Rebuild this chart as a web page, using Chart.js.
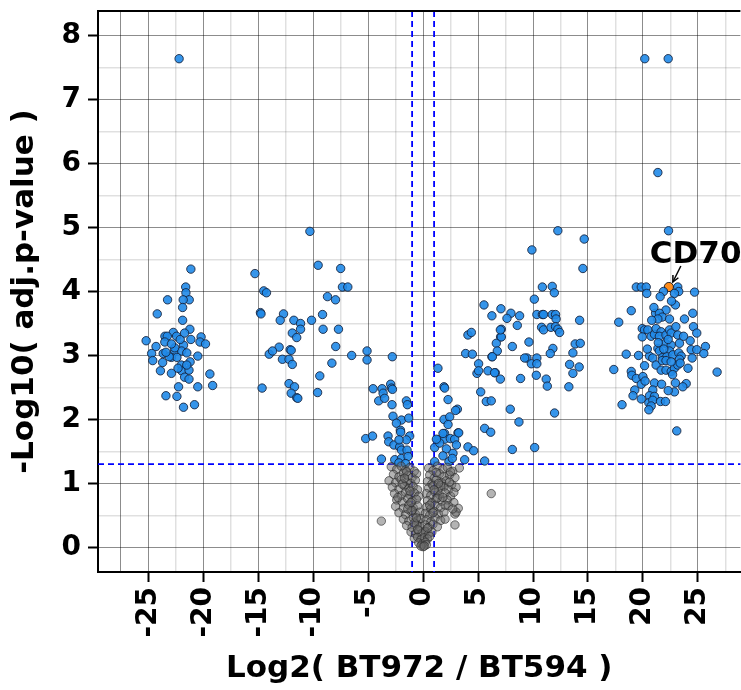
<!DOCTYPE html>
<html>
<head>
<meta charset="utf-8">
<script src="https://cdn.jsdelivr.net/npm/chart.js@4.4.0/dist/chart.umd.min.js"></script>
<style>
  html, body { margin: 0; padding: 0; background: #fff; overflow: hidden; }
  #wrap { width: 741px; height: 690px; overflow: hidden; }
</style>
</head>
<body>
<div id="wrap"><canvas id="volcano" width="746" height="690"></canvas></div>
<script>
// tick labels shown on the axes
const xTickLabels = [-25, -20, -15, -10, -5, 0, 5, 10, 15, 20, 25];
const yTickLabels = [0, 1, 2, 3, 4, 5, 6, 7, 8];

// cut-offs: |log2FC| = 1, adj.p = 0.05
const fcCut = [-1, 1];
const pCut = 1.301;

// highlighted gene
const hlLabels = ['CD70'];
const hlPoints = [[22.36, 4.07]];

// significant genes, [log2FC, -log10 adj.p]
const topOutliers = [[-22.2, 7.64], [20.17, 7.64], [22.3, 7.64], [21.36, 5.86], [22.33, 4.95]];

const farLeft = [
  [-21.13, 4.35], [-21.6, 4.07], [-21.58, 3.98], [-21.28, 3.87], [-21.83, 3.87], [-23.25, 3.87], [-21.88, 3.75], [-24.19, 3.65], [-21.88, 3.55], [-21.22, 3.41],
  [-22.73, 3.36], [-23.49, 3.30], [-23.28, 3.30], [-22.43, 3.30], [-25.2, 3.23], [-21.13, 3.25], [-20.2, 3.29], [-20.3, 3.21], [-19.8, 3.18], [-23.5, 3.21],
  [-24.3, 3.14], [-21.8, 3.16], [-24.7, 3.03], [-23.65, 3.03], [-22.6, 3.07], [-21.97, 3.07], [-21.5, 3.04], [-22.9, 2.97], [-22.4, 2.97], [-20.5, 2.99],
  [-24.6, 2.92], [-23.7, 2.89], [-21.2, 2.90], [-22.0, 2.85], [-23.9, 2.76], [-22.9, 2.72], [-21.97, 2.76], [-21.3, 2.77], [-21.7, 2.66], [-21.3, 2.63],
  [-19.4, 2.71], [-22.25, 2.51], [-20.5, 2.51], [-19.15, 2.53], [-23.4, 2.37], [-22.4, 2.36], [-20.8, 2.23], [-21.8, 2.19],
  [-22.6, 3.12], [-22.1, 3.25], [-21.7, 3.35], [-22.9, 3.18], [-23.1, 2.98], [-21.5, 2.85], [-22.3, 2.80], [-23.4, 3.05]
];

const midLeft = [
  [-15.3, 4.28], [-14.5, 4.01], [-14.25, 3.98], [-14.8, 3.67], [-14.75, 3.65], [-12.7, 3.65], [-13.0, 3.55], [-11.76, 3.55], [-11.15, 3.50], [-11.15, 3.41],
  [-10.15, 3.55], [-9.15, 3.64], [-9.1, 3.41], [-7.7, 3.41], [-11.9, 3.35], [-11.5, 3.28], [-13.1, 3.13], [-12.1, 3.09], [-12.0, 3.08], [-14.0, 3.02],
  [-13.7, 3.07], [-12.8, 2.94], [-12.2, 2.94], [-11.9, 2.86], [-7.95, 3.14], [-6.5, 3.0], [-8.3, 2.88], [-9.4, 2.68], [-14.65, 2.49], [-12.2, 2.56],
  [-11.7, 2.51], [-12.0, 2.41], [-11.5, 2.34], [-11.4, 2.33], [-9.6, 2.42], [-10.3, 4.94], [-9.55, 4.41], [-7.5, 4.36], [-7.34, 4.07], [-6.85, 4.07],
  [-8.7, 3.92], [-7.97, 3.87]
];

const nearLeft = [
  [-5.1, 3.07], [-5.1, 2.93], [-2.8, 2.98], [-4.55, 2.48], [-3.73, 2.48], [-3.64, 2.41], [-2.95, 2.55], [-2.88, 2.49], [-2.79, 2.47], [-4.04, 2.29],
  [-3.5, 2.33], [-2.83, 2.23], [-1.52, 2.29], [-1.43, 2.23], [-2.74, 2.05], [-1.97, 1.99], [-1.31, 2.02], [-2.43, 1.94], [-2.06, 1.83], [-2.04, 1.80],
  [-5.22, 1.70], [-4.6, 1.74], [-3.19, 1.74], [-1.22, 1.74], [-3.13, 1.65], [-2.65, 1.60], [-2.13, 1.57], [-1.52, 1.68], [-2.19, 1.68], [-1.97, 1.52],
  [-1.46, 1.52], [-3.79, 1.38], [-2.58, 1.37], [-1.97, 1.39], [-1.37, 1.42], [-2.2, 1.32], [-1.6, 1.31]
];

const nearRight = [
  [1.35, 2.80], [1.9, 2.51], [1.96, 2.49], [2.27, 2.31], [3.12, 2.16], [2.96, 2.14], [1.9, 2.0], [2.42, 2.04], [2.27, 1.92], [3.17, 1.79],
  [1.96, 1.78], [1.35, 1.68], [1.96, 1.69], [2.48, 1.70], [2.87, 1.69], [1.05, 1.56], [2.12, 1.54], [3.03, 1.60], [2.72, 1.47], [1.81, 1.43],
  [1.05, 1.34], [2.35, 1.34], [2.66, 1.39], [3.78, 1.37], [4.08, 1.57], [4.6, 1.51], [1.51, 1.63], [3.24, 1.79], [1.81, 1.78], [1.21, 1.69]
];

const midRight = [
  [12.26, 4.95], [14.66, 4.82], [9.9, 4.65], [14.54, 4.36], [10.85, 4.07], [11.75, 4.08], [11.94, 3.98], [10.12, 3.88], [5.54, 3.79], [7.08, 3.73],
  [7.99, 3.66], [8.78, 3.62], [7.63, 3.58], [6.26, 3.62], [10.35, 3.64], [10.85, 3.64], [10.96, 3.64], [11.75, 3.64], [12.05, 3.64], [12.1, 3.57],
  [14.24, 3.55], [8.57, 3.47], [7.12, 3.41], [10.78, 3.44], [10.96, 3.40], [11.63, 3.44], [12.05, 3.45], [12.26, 3.41], [12.42, 3.36], [4.08, 3.32],
  [4.39, 3.36], [7.05, 3.29], [6.66, 3.19], [6.75, 3.07], [8.12, 3.14], [9.63, 3.21], [11.81, 3.11], [11.57, 3.03], [13.84, 3.18], [14.3, 3.19],
  [13.63, 3.04], [3.87, 3.03], [4.48, 3.02], [6.26, 2.98], [9.45, 2.96], [10.35, 2.96], [9.85, 2.87], [10.35, 2.87], [5.05, 2.87], [4.9, 2.72],
  [5.9, 2.76], [6.57, 2.73], [7.03, 2.63], [8.87, 2.64], [10.3, 2.69], [11.2, 2.63], [11.3, 2.52], [13.33, 2.86], [14.2, 2.82], [13.63, 2.72],
  [13.26, 2.51], [5.24, 2.43], [5.75, 2.28], [6.2, 2.29], [7.93, 2.16], [8.72, 1.96], [11.96, 2.10], [5.6, 1.86], [6.15, 1.80], [8.12, 1.53],
  [10.15, 1.56], [5.6, 1.35], [6.3, 2.98], [7.12, 3.29], [7.03, 3.40], [9.24, 2.96], [5.05, 2.76], [6.5, 2.73]
];

const farRight = [
  [19.4, 4.07], [19.85, 4.07], [20.3, 4.07], [20.35, 3.97], [21.87, 4.0], [21.57, 3.92], [23.17, 4.07], [23.26, 4.0], [24.7, 3.99], [22.87, 3.97],
  [22.96, 3.79], [22.1, 3.71], [18.94, 3.70], [17.8, 3.52], [17.35, 2.78], [21.15, 3.66], [21.5, 3.66], [21.76, 3.60], [21.36, 3.57], [22.42, 3.57],
  [23.78, 3.57], [24.54, 3.66], [19.94, 3.42], [20.15, 3.40], [20.45, 3.40], [20.75, 3.30], [21.05, 3.33], [21.2, 3.42], [19.94, 3.29], [21.66, 3.37],
  [21.5, 3.30], [22.1, 3.32], [22.42, 3.40], [22.57, 3.35], [23.17, 3.32], [23.33, 3.19], [24.6, 3.45], [24.9, 3.35], [24.3, 3.23], [22.05, 3.19],
  [22.57, 3.16], [22.42, 3.07], [21.36, 3.11], [21.5, 3.07], [20.6, 2.99], [20.9, 2.96], [21.8, 2.97], [22.17, 2.98], [22.72, 3.01], [23.26, 3.04],
  [23.48, 2.99], [23.33, 2.94], [24.39, 3.09], [24.48, 2.96], [24.9, 3.09], [25.69, 3.14], [25.54, 3.03], [18.48, 3.02], [20.15, 2.84], [21.2, 2.85],
  [21.66, 2.77], [22.1, 2.77], [22.57, 2.75], [22.87, 2.80], [23.17, 2.85], [21.76, 2.92], [22.1, 2.92], [22.57, 2.90], [23.39, 2.88],
  [18.94, 2.75], [18.99, 2.69], [26.75, 2.74], [19.4, 2.64], [20.0, 2.67], [19.85, 2.55], [21.05, 2.57], [20.9, 2.46], [22.96, 2.57], [23.94, 2.56],
  [23.63, 2.51], [22.87, 2.43], [19.26, 2.46], [19.1, 2.37], [19.85, 2.32], [20.6, 2.37], [21.05, 2.36], [20.54, 2.26], [20.9, 2.30], [21.6, 2.28],
  [22.05, 2.28], [20.75, 2.21], [20.54, 2.15], [18.1, 2.23], [23.08, 1.82],
  [21.4, 3.2], [21.9, 3.1], [22.3, 3.25], [22.7, 2.7], [20.4, 3.1], [23.0, 3.45], [21.7, 2.55], [22.3, 2.45], [20.2, 2.6], [23.7, 3.3],
  [20.8, 3.55], [19.6, 3.0], [24.1, 2.8], [21.0, 3.75], [22.6, 3.85]
];

// not significant genes
const nsPoints = [
  [-2.9, 1.26], [-2.4, 1.22], [-2.0, 1.27], [-1.6, 1.21], [-1.2, 1.25], [-0.8, 1.19], [0.5, 1.24], [0.9, 1.2], [1.3, 1.27], [1.8, 1.22], [2.2, 1.25], [2.7, 1.19], [3.3, 1.24],
  [-2.7, 1.14], [-2.2, 1.1], [-1.8, 1.16], [-1.4, 1.12], [-1.0, 1.09], [-0.6, 1.15], [0.6, 1.13], [1.0, 1.08], [1.5, 1.15], [1.9, 1.11], [2.4, 1.13], [2.9, 1.09],
  [-3.1, 1.04], [-2.5, 1.01], [-2.0, 1.06], [-1.5, 1.02], [-1.1, 1.0], [-0.7, 1.05], [0.4, 1.03], [0.8, 0.99], [1.2, 1.05], [1.7, 1.01], [2.1, 1.04], [2.6, 0.98],
  [-2.8, 0.94], [-2.2, 0.91], [-1.7, 0.96], [-1.3, 0.92], [-0.9, 0.95], [-0.5, 0.9], [0.5, 0.93], [0.9, 0.96], [1.4, 0.91], [1.9, 0.95], [2.3, 0.9], [3.0, 0.94],
  [-2.6, 0.84], [-2.0, 0.81], [-1.6, 0.86], [-1.2, 0.82], [-0.8, 0.85], [-0.4, 0.8], [0.3, 0.84], [0.7, 0.81], [1.1, 0.86], [1.5, 0.82], [2.0, 0.85], [2.5, 0.8],
  [-2.4, 0.74], [-1.9, 0.71], [-1.4, 0.76], [-1.0, 0.72], [-0.6, 0.75], [0.4, 0.73], [0.8, 0.7], [1.2, 0.76], [1.7, 0.72], [2.2, 0.74], [2.8, 0.7],
  [-2.5, 0.64], [-1.8, 0.61], [-1.3, 0.66], [-0.9, 0.62], [-0.5, 0.65], [0.3, 0.63], [0.7, 0.6], [1.1, 0.66], [1.6, 0.62], [2.3, 0.65], [3.2, 0.61],
  [-2.2, 0.54], [-1.6, 0.51], [-1.1, 0.56], [-0.7, 0.52], [-0.3, 0.55], [0.2, 0.53], [0.6, 0.5], [1.0, 0.56], [1.4, 0.52], [1.9, 0.55], [2.9, 0.52],
  [-1.8, 0.44], [-1.3, 0.41], [-0.9, 0.46], [-0.5, 0.42], [-0.2, 0.45], [0.3, 0.43], [0.7, 0.4], [1.1, 0.46], [1.6, 0.42], [2.0, 0.44],
  [-1.5, 0.34], [-1.0, 0.31], [-0.6, 0.36], [-0.3, 0.32], [0.2, 0.35], [0.5, 0.31], [0.9, 0.36], [1.3, 0.32], [2.9, 0.35],
  [-1.1, 0.24], [-0.7, 0.21], [-0.4, 0.26], [-0.1, 0.22], [0.2, 0.25], [0.5, 0.21], [0.8, 0.24],
  [-0.8, 0.14], [-0.5, 0.16], [-0.2, 0.12], [0.1, 0.15], [0.4, 0.13], [0.6, 0.17],
  [-0.4, 0.07], [-0.1, 0.05], [0.2, 0.08], [0.3, 0.04], [0.0, 0.01], [-0.2, 0.02], [0.1, 0.02],
  [-1.5, 1.18], [-1.9, 0.99], [-1.2, 0.88], [-1.0, 0.58], [-0.8, 0.38], [-1.4, 0.6], [1.2, 1.17], [1.6, 0.97], [1.3, 0.77], [0.9, 0.54],
  [1.4, 1.0], [2.0, 0.66], [2.5, 1.18], [2.8, 0.86], [-0.5, 0.28], [0.4, 0.3], [3.0, 0.55], [2.7, 0.6],
  [-1.7, 1.08], [-2.3, 0.78], [-1.1, 0.7], [-0.6, 0.46], [0.6, 0.66], [1.0, 0.9], [1.8, 0.78], [2.4, 1.02],
  [-3.8, 0.41], [6.2, 0.84]
];

const FONT = 'DejaVu Sans';
const toXY = p => ({ x: p[0], y: p[1] });
const sigPoints = [].concat(farLeft, midLeft, nearLeft, nearRight, midRight, farRight, topOutliers);

// grid lines every 2.5 / 0.5, labels only on the major ones
const xGrid = [];
for (let v = -27.5; v <= 27.5; v += 2.5) xGrid.push(v);
const yGrid = [];
for (let v = 0; v <= 8; v += 0.5) yGrid.push(v);

const isMajorX = v => xTickLabels.includes(v) || v === -27.5;
const isMajorY = v => yTickLabels.includes(v);

const thresholdLines = {
  id: 'thresholdLines',
  beforeDatasetsDraw(chart) {
    const { ctx, chartArea: a, scales: { x, y } } = chart;
    ctx.save();
    ctx.strokeStyle = '#0000ff';
    ctx.lineWidth = 1.8;
    ctx.setLineDash([6, 4]);
    fcCut.forEach(v => {
      const px = x.getPixelForValue(v);
      ctx.beginPath(); ctx.moveTo(px, a.top); ctx.lineTo(px, a.bottom); ctx.stroke();
    });
    const py = y.getPixelForValue(pCut);
    ctx.beginPath(); ctx.moveTo(a.left, py); ctx.lineTo(a.right, py); ctx.stroke();
    ctx.restore();
  }
};

const geneLabel = {
  id: 'geneLabel',
  afterDatasetsDraw(chart) {
    const { ctx, scales: { x, y } } = chart;
    ctx.save();
    hlPoints.forEach((p, i) => {
      const px = x.getPixelForValue(p[0]);
      const py = y.getPixelForValue(p[1]);
      const x0 = px + 12, y0 = py - 21, x1 = px + 4, y1 = py - 5;
      ctx.strokeStyle = '#000';
      ctx.lineWidth = 1.5;
      ctx.beginPath(); ctx.moveTo(x0, y0); ctx.lineTo(x1, y1); ctx.stroke();
      const ang = Math.atan2(y1 - y0, x1 - x0);
      ctx.beginPath();
      ctx.moveTo(x1 - 7 * Math.cos(ang - 0.45), y1 - 7 * Math.sin(ang - 0.45));
      ctx.lineTo(x1, y1);
      ctx.lineTo(x1 - 7 * Math.cos(ang + 0.45), y1 - 7 * Math.sin(ang + 0.45));
      ctx.stroke();
      ctx.fillStyle = '#000';
      ctx.font = 'bold 31px "' + FONT + '"';
      ctx.textAlign = 'left';
      ctx.textBaseline = 'alphabetic';
      ctx.fillText(hlLabels[i], px - 19, py - 24);
    });
    ctx.restore();
  }
};

const topFrame = {
  id: 'topFrame',
  afterDraw(chart) {
    const { ctx, chartArea: a } = chart;
    ctx.save();
    ctx.strokeStyle = '#000';
    ctx.lineWidth = 2;
    ctx.beginPath(); ctx.moveTo(a.left - 1, a.top); ctx.lineTo(a.right, a.top); ctx.stroke();
    ctx.restore();
  }
};

new Chart(document.getElementById('volcano'), {
  type: 'scatter',
  data: {
    datasets: [
      {
        label: 'NS',
        data: nsPoints.map(toXY),
        backgroundColor: 'rgba(105,105,105,0.5)',
        borderColor: 'rgba(35,35,35,0.6)',
        borderWidth: 1,
        pointRadius: 4.2
      },
      {
        label: 'Significant',
        data: sigPoints.map(toXY),
        backgroundColor: 'rgba(32,138,232,0.9)',
        borderColor: 'rgba(20,30,55,0.85)',
        borderWidth: 1,
        pointRadius: 4.2
      },
      {
        label: 'CD70',
        data: hlPoints.map(toXY),
        backgroundColor: '#ff8c1a',
        borderColor: '#222',
        borderWidth: 1,
        pointRadius: 4.6
      }
    ]
  },
  options: {
    responsive: false,
    animation: false,
    layout: { padding: { top: 11, right: 0, bottom: 0, left: 0 } },
    plugins: { legend: { display: false }, tooltip: { enabled: false } },
    scales: {
      x: {
        type: 'linear',
        min: -29.58,
        max: 28.87,
        afterBuildTicks: s => { s.ticks = xGrid.map(v => ({ value: v })); },
        afterFit: s => { s.height = 118; s.paddingLeft = 0; s.paddingRight = 0; },
        ticks: {
          autoSkip: false,
          minRotation: 90,
          maxRotation: 90,
          padding: 5,
          color: '#000',
          font: { family: FONT, size: 28, weight: 'bold' },
          callback: v => xTickLabels.includes(v) ? String(v) : ''
        },
        grid: {
          color: c => isMajorX(c.tick.value) ? 'rgba(0,0,0,0.45)' : 'rgba(0,0,0,0.12)',
          lineWidth: c => isMajorX(c.tick.value) ? 1 : 1.5,
          tickLength: 10,
          tickColor: c => xTickLabels.includes(c.tick.value) ? '#000' : 'rgba(0,0,0,0)',
          tickWidth: 2
        },
        border: { display: true, color: '#000', width: 2 },
        title: {
          display: true,
          text: 'Log2( BT972 / BT594 )',
          color: '#000',
          font: { family: FONT, size: 31, weight: 'bold' },
          padding: { top: 0, bottom: 2 }
        }
      },
      y: {
        type: 'linear',
        min: -0.386,
        max: 8.386,
        afterBuildTicks: s => { s.ticks = yGrid.map(v => ({ value: v })); },
        afterFit: s => { s.width = 98; s.paddingTop = 0; s.paddingBottom = 0; },
        ticks: {
          autoSkip: false,
          padding: 7,
          color: '#000',
          font: { family: FONT, size: 28, weight: 'bold' },
          callback: v => yTickLabels.includes(v) ? String(v) : ''
        },
        grid: {
          color: c => isMajorY(c.tick.value) ? 'rgba(0,0,0,0.45)' : 'rgba(0,0,0,0.12)',
          lineWidth: c => isMajorY(c.tick.value) ? 1 : 1.5,
          tickLength: 10,
          tickColor: c => yTickLabels.includes(c.tick.value) ? '#000' : 'rgba(0,0,0,0)',
          tickWidth: 2
        },
        border: { display: true, color: '#000', width: 2 },
        title: {
          display: true,
          text: '-Log10( adj.p-value )',
          color: '#000',
          font: { family: FONT, size: 31, weight: 'bold' },
          padding: { top: 6, bottom: 0 }
        }
      }
    }
  },
  plugins: [thresholdLines, geneLabel, topFrame]
});
</script>
</body>
</html>
